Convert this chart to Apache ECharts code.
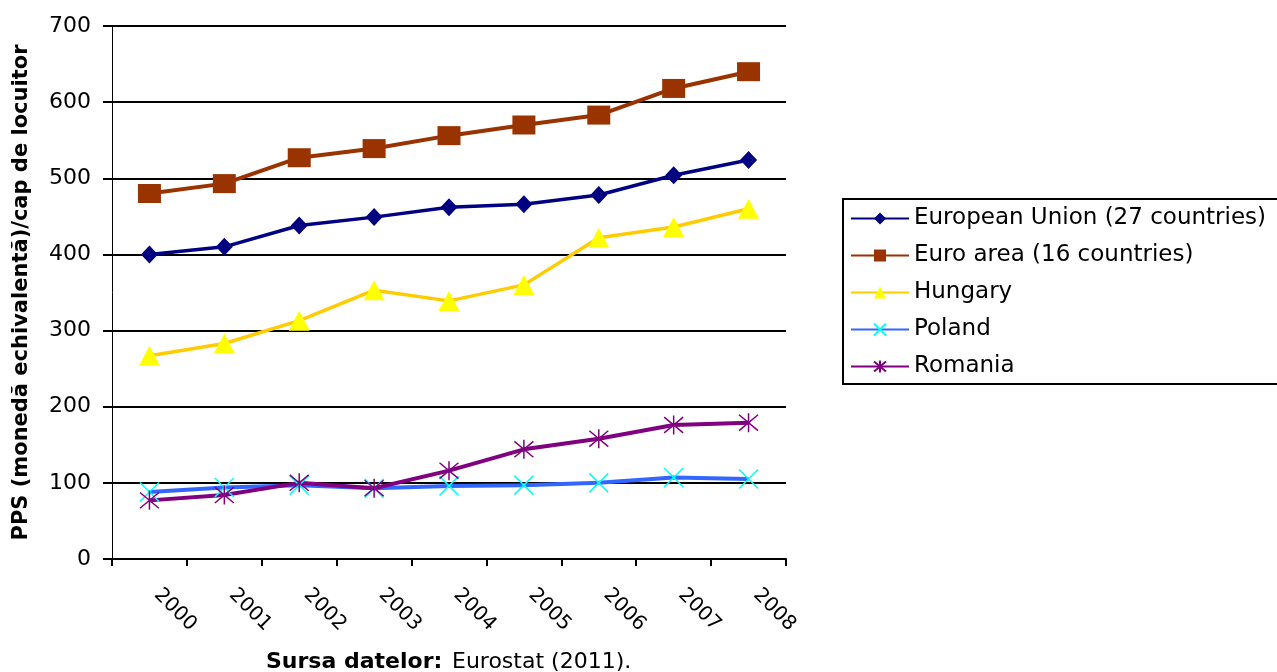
<!DOCTYPE html>
<html>
<head>
<meta charset="utf-8">
<script src="https://cdn.jsdelivr.net/npm/echarts@6/dist/echarts.min.js"></script>
<style>
  html, body { margin: 0; padding: 0; background: #fff; }
  #chart { width: 1277px; height: 672px; }
</style>
</head>
<body>
<div id="chart"></div>
<script>
const years = ['2000', '2001', '2002', '2003', '2004', '2005', '2006', '2007', '2008'];
const euValues = [400, 410, 438, 449, 462, 466, 478, 504, 524];
const euroAreaValues = [480, 493, 527, 539, 556, 570, 583, 618, 640];
const hungaryValues = [267, 283, 313, 353, 339, 360, 422, 436, 460];
const polandValues = [88, 94, 97, 93, 96, 97, 100, 107, 105];
const romaniaValues = [77, 84, 100, 93, 116, 144, 158, 176, 179];
const yTicks = { min: 0, max: 700, interval: 100 };

const font = 'DejaVu Sans';
const xMark = 'path://M0 0L10 10M10 0L0 10';
const starMark = 'path://M0 0L10 10M10 0L0 10M5 -1L5 11';

const chart = echarts.init(document.getElementById('chart'));
chart.setOption({
    animation: false,
    backgroundColor: '#ffffff',
    title: [
        {
            left: 261,
            top: 646,
            text: 'Sursa datelor:',
            textStyle: { fontFamily: font, fontWeight: 'bold', fontSize: 22, color: '#000' }
        },
        {
            left: 447,
            top: 646,
            text: 'Eurostat (2011).',
            textStyle: { fontFamily: font, fontWeight: 'normal', fontSize: 22, color: '#000' }
        }
    ],
    grid: {
        left: 112,
        right: 491,
        top: 26,
        bottom: 113
    },
    legend: {
        orient: 'vertical',
        left: 843,
        top: 199,
        padding: [8, 12, 6, 7],
        itemWidth: 58,
        itemHeight: 15,
        itemGap: 14,
        backgroundColor: '#fff',
        borderColor: '#000',
        borderWidth: 2,
        borderRadius: 0,
        textStyle: { fontFamily: font, fontSize: 23, color: '#000' }
    },
    xAxis: {
        type: 'category',
        data: years,
        boundaryGap: true,
        axisLine: { lineStyle: { color: '#000', width: 2 } },
        axisTick: { show: true, length: 7, lineStyle: { color: '#000', width: 2 } },
        axisLabel: {
            rotate: -45,
            margin: 25,
            padding: [0, 0, 14, 11],
            fontFamily: font,
            fontSize: 20,
            color: '#000'
        },
        splitLine: { show: false }
    },
    yAxis: {
        type: 'value',
        min: yTicks.min,
        max: yTicks.max,
        interval: yTicks.interval,
        name: 'PPS (monedă echivalentă)/cap de locuitor',
        nameLocation: 'middle',
        nameRotate: 90,
        nameGap: 80,
        nameTextStyle: { fontFamily: font, fontWeight: 'bold', fontSize: 21, color: '#000' },
        axisLine: { show: true, lineStyle: { color: '#000', width: 1 } },
        axisTick: { show: true, length: 9, lineStyle: { color: '#000', width: 2 } },
        axisLabel: { fontFamily: font, fontSize: 22, color: '#000', margin: 21 },
        splitLine: { show: true, lineStyle: { color: '#000', width: 2 } }
    },
    series: [
        {
            name: 'European Union (27 countries)',
            type: 'line',
            data: euValues,
            symbol: 'diamond',
            symbolSize: [17, 18],
            lineStyle: { color: '#000080', width: 3.5 },
            itemStyle: { color: '#000080', borderWidth: 0 }
        },
        {
            name: 'Euro area (16 countries)',
            type: 'line',
            data: euroAreaValues,
            symbol: 'rect',
            symbolSize: [23, 19],
            lineStyle: { color: '#993300', width: 4 },
            itemStyle: { color: '#993300', borderWidth: 0 }
        },
        {
            name: 'Hungary',
            type: 'line',
            data: hungaryValues,
            symbol: 'triangle',
            symbolSize: [21, 20],
            lineStyle: { color: '#ffcc00', width: 3.5 },
            itemStyle: { color: '#ffff00', borderWidth: 0 }
        },
        {
            name: 'Poland',
            type: 'line',
            data: polandValues,
            symbol: xMark,
            symbolSize: 19,
            lineStyle: { color: '#3366ff', width: 4 },
            itemStyle: { color: '#00ffff', borderColor: '#00ffff', borderWidth: 1.5 }
        },
        {
            name: 'Romania',
            type: 'line',
            data: romaniaValues,
            symbol: starMark,
            symbolSize: 19,
            lineStyle: { color: '#800080', width: 4 },
            itemStyle: { color: '#800080', borderColor: '#800080', borderWidth: 1.5 }
        }
    ]
});
</script>
</body>
</html>
